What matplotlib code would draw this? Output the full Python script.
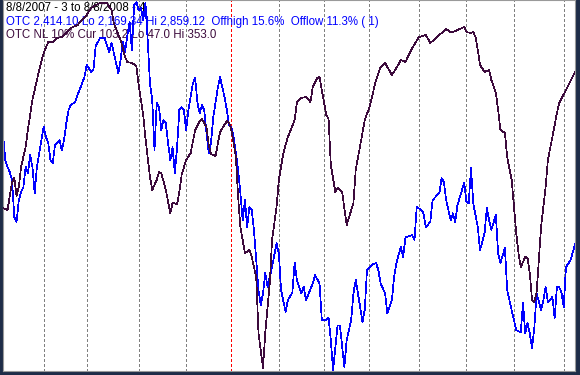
import matplotlib

matplotlib.use("Agg")

import matplotlib.pyplot as plt

# trading-day index (0 = 8/8/2007) and closing values
otc_day = [0, 1, 2, 3, 4, 5, 6, 7, 8, 9, 10, 11, 12, 13, 14, 15, 16, 17, 18, 19,
           20, 21, 22, 23, 24, 25, 26, 27, 28, 29, 30, 32, 33, 35, 36, 37, 39, 40, 41, 43,
           45, 46, 47, 48, 49, 51, 52, 53, 54, 55, 56, 57, 58, 59, 60, 61, 62, 63, 64, 65,
           66, 67, 68, 69, 70, 71, 72, 73, 74, 75, 76, 77, 78, 79, 80, 81, 82, 84, 85, 86,
           87, 88, 89, 90, 91, 92, 93, 95, 96, 98, 99, 100, 101, 102, 103, 104, 105, 106, 107, 108,
           109, 110, 111, 112, 113, 114, 115, 116, 117, 118, 119, 121, 122, 123, 125, 126, 128, 129, 130, 132,
           133, 134, 137, 138, 140, 141, 143, 144, 145, 146, 148, 149, 151, 152, 154, 155, 156, 158, 159, 160,
           161, 163, 165, 166, 167, 169, 170, 172, 173, 174, 176, 177, 178, 181, 182, 183, 185, 186, 187, 189,
           190, 193, 194, 195, 196, 198, 199, 200, 201, 202, 204, 205, 206, 207, 208, 210, 211, 213, 214, 215,
           216, 218, 219, 220, 222, 223, 224, 226, 227, 229, 230, 231, 232, 233, 234, 235, 236, 238, 239, 240,
           241, 243, 244, 245, 246, 247, 248, 249, 251, 253]
otc_close = [2613, 2563, 2550, 2540, 2525, 2456, 2447, 2488, 2503, 2512, 2550, 2538, 2572, 2550, 2501, 2550, 2576, 2600, 2625, 2606,
             2595, 2563, 2557, 2591, 2595, 2600, 2582, 2600, 2632, 2657, 2666, 2672, 2685, 2707, 2718, 2741, 2728, 2732, 2777, 2792,
             2792, 2777, 2765, 2782, 2764, 2726, 2750, 2784, 2765, 2797, 2822, 2769, 2853, 2859, 2844, 2848, 2825, 2857, 2788, 2707,
             2675, 2582, 2670, 2662, 2619, 2638, 2632, 2595, 2563, 2587, 2538, 2587, 2657, 2662, 2657, 2619, 2657, 2707, 2717, 2670,
             2651, 2666, 2657, 2613, 2576, 2595, 2643, 2698, 2718, 2681, 2657, 2628, 2625, 2606, 2576, 2544, 2501, 2450, 2488, 2437,
             2475, 2469, 2432, 2375, 2319, 2291, 2313, 2351, 2325, 2344, 2362, 2407, 2388, 2319, 2278, 2300, 2315, 2370, 2338, 2313,
             2325, 2300, 2332, 2347, 2332, 2263, 2263, 2268, 2225, 2169, 2253, 2253, 2175, 2225, 2263, 2313, 2338, 2287, 2259, 2282,
             2357, 2366, 2370, 2357, 2332, 2313, 2276, 2300, 2344, 2370, 2400, 2381, 2418, 2422, 2413, 2475, 2469, 2463, 2437, 2447,
             2488, 2501, 2529, 2522, 2488, 2450, 2463, 2447, 2478, 2493, 2520, 2484, 2482, 2548, 2482, 2437, 2394, 2426, 2473, 2450,
             2432, 2460, 2388, 2370, 2398, 2319, 2300, 2263, 2244, 2240, 2295, 2238, 2257, 2238, 2210, 2248, 2313, 2282, 2300, 2325,
             2297, 2306, 2267, 2325, 2325, 2315, 2287, 2362, 2375, 2405]

nl_day = [0, 2, 4, 5, 6, 7, 8, 10, 11, 13, 14, 16, 18, 20, 22, 24, 26, 28, 30, 33,
          35, 37, 39, 41, 43, 46, 47, 48, 49, 52, 54, 55, 57, 59, 60, 62, 63, 65, 66, 68,
          69, 70, 72, 74, 75, 77, 78, 79, 81, 83, 85, 87, 88, 90, 91, 92, 94, 96, 99, 100,
          101, 103, 104, 105, 107, 109, 110, 112, 113, 115, 116, 118, 119, 121, 122, 124, 126, 129, 130, 132,
          134, 136, 137, 139, 140, 141, 143, 144, 145, 147, 148, 150, 152, 154, 155, 156, 159, 160, 162, 165,
          167, 169, 172, 174, 176, 178, 181, 184, 187, 189, 193, 196, 198, 199, 201, 204, 205, 207, 208, 209,
          210, 211, 213, 215, 216, 218, 219, 220, 222, 223, 225, 226, 227, 228, 229, 231, 232, 233, 234, 235,
          236, 237, 238, 240, 241, 243, 245, 246, 249, 253]
nl_value = [181.7, 180.0, 203.3, 206.6, 191.7, 199.2, 215.8, 232.4, 246.6, 271.5, 279.8, 296.5, 310.6, 319.7, 319.7, 323.1, 323.9, 327.2, 331.4, 333.9,
            338.0, 342.2, 348.0, 350.5, 352.2, 352.2, 348.8, 346.3, 335.5, 321.4, 307.3, 303.1, 302.3, 299.8, 284.0, 259.0, 239.9, 207.5, 196.7, 205.0,
            211.6, 210.8, 196.7, 177.5, 185.9, 185.0, 195.0, 209.1, 221.6, 227.4, 246.6, 254.0, 255.7, 249.1, 234.1, 226.6, 224.9, 244.9, 254.0, 252.4,
            246.6, 224.1, 190.8, 165.9, 144.3, 146.8, 141.0, 124.3, 77.8, 48.7, 77.8, 119.3, 155.1, 182.5, 205.0, 227.4, 240.7, 254.9, 269.8, 273.2,
            274.0, 269.8, 282.3, 289.8, 290.6, 279.8, 259.0, 255.7, 217.5, 195.0, 198.3, 195.0, 167.6, 180.0, 185.9, 213.3, 244.1, 254.9, 264.9, 288.1,
            298.9, 302.3, 292.3, 298.1, 304.8, 303.1, 314.7, 323.9, 325.6, 318.9, 325.6, 330.5, 328.0, 328.0, 329.7, 332.2, 328.0, 327.2, 328.0, 323.9,
            313.1, 300.6, 294.8, 296.5, 288.1, 277.3, 263.2, 246.6, 244.1, 224.1, 205.0, 182.5, 160.9, 144.3, 132.6, 141.0, 140.1, 127.7, 105.2, 103.5,
            111.0, 138.5, 165.9, 199.2, 221.6, 240.7, 260.7, 269.0, 279.8, 294.8]

# first trading day of each month; 101 is the first session of 2008
month_starts = [18, 37, 60, 81, 101, 122, 142, 162, 184, 205, 226, 248]
year_start = 101
n_days = 253

otc_lo, otc_hi = 2169.34, 2859.12
nl_lo, nl_hi = 47.0, 353.0

title = "8/8/2007 - 3 to 8/8/2008 - 4"
otc_label = "OTC 2,414.10 Lo 2,169.34 Hi 2,859.12  Offhigh 15.6%  Offlow 11.3% ( 1)"
nl_label = "OTC NL 10% Cur 103.2 Lo 47.0 Hi 353.0"

BLUE = "#0000ff"
PURPLE = "#3c0a3c"

fig = plt.figure(figsize=(5.8, 3.75), dpi=100, facecolor="#1e2c48")
ax = fig.add_axes([3 / 580, 4 / 375, 572 / 580, 371 / 375])
ax.set_facecolor("white")
ax2 = ax.twinx()


def pad(lo, hi):
    step = (hi - lo) / 368
    return lo - step, hi + 2 * step


for d in month_starts:
    ax.axvline(d, color="#ff0000" if d == year_start else "#808080",
               lw=0.5, ls=(0, (4, 4)), zorder=0.5, antialiased=False)

ax.plot(otc_day, otc_close, color=BLUE, lw=0.5, zorder=2, antialiased=False)
ax2.plot(nl_day, nl_value, color=PURPLE, lw=0.5, zorder=2, antialiased=False)

ax.set_xlim(0, n_days)
ax.set_ylim(*pad(otc_lo, otc_hi))
ax2.set_ylim(*pad(nl_lo, nl_hi))

for a in (ax, ax2):
    a.set_xticks([])
    a.set_yticks([])
for s in ax.spines.values():
    s.set_color("#9a9a9a")
    s.set_linewidth(0.8)
for s in ax2.spines.values():
    s.set_visible(False)

font = dict(family="Liberation Sans", size=8.3, va="center", ha="left",
            transform=fig.transFigure, zorder=1)
ax.text(6 / 580, 1 - 8 / 375, title, color="black", **font)
ax.text(6 / 580, 1 - 22 / 375, otc_label, color=BLUE, **font)
ax.text(6 / 580, 1 - 35 / 375, nl_label, color=PURPLE, **font)

fig.savefig("out.png", dpi=100, facecolor=fig.get_facecolor())
